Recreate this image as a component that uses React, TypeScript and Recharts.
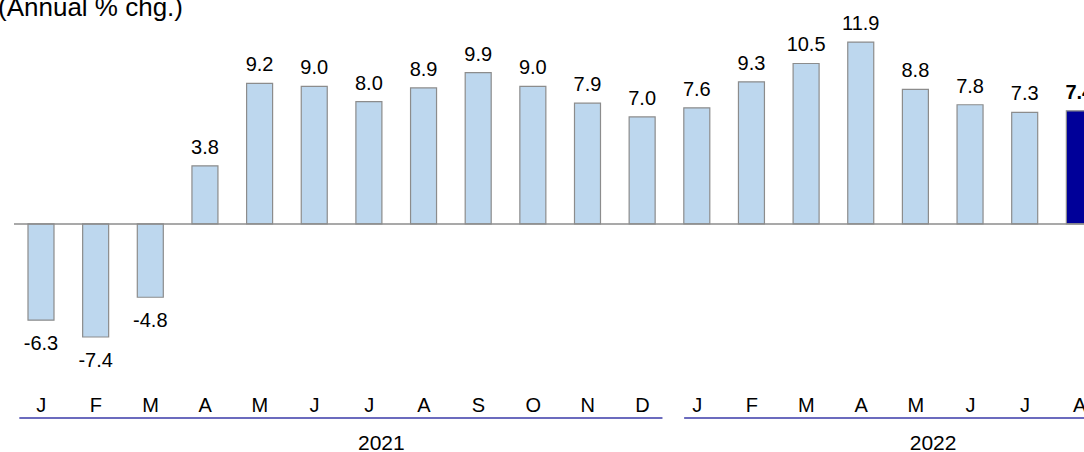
import { BarChart, Bar, Cell, XAxis, YAxis, ReferenceLine, LabelList } from "recharts";

// Annual % change, by month
const months2021 = ["J", "F", "M", "A", "M", "J", "J", "A", "S", "O", "N", "D"];
const values2021 = [-6.3, -7.4, -4.8, 3.8, 9.2, 9.0, 8.0, 8.9, 9.9, 9.0, 7.9, 7.0];
const months2022 = ["J", "F", "M", "A", "M", "J", "J", "A"];
const values2022 = [7.6, 9.3, 10.5, 11.9, 8.8, 7.8, 7.3, 7.4];
const years = ["2021", "2022"];

const data = [
  ...months2021.map((m, i) => ({ month: m, value: values2021[i], year: years[0] })),
  ...months2022.map((m, i) => ({ month: m, value: values2022[i], year: years[1] })),
];

const FONT = "'Liberation Sans', Arial, sans-serif";
const CHART_W = 1107;
const CHART_H = 452;
const MARGIN = { top: 10, right: 0, left: 14, bottom: 0 };
const BAND = (CHART_W - MARGIN.left - MARGIN.right) / data.length;

const lightBar = "#bdd7ee";
const darkBar = "#000099";
const barStroke = "#8c8c8c";
const yearLine = "#3a3aa8";

// per-year group decoration, relative to the first month tick of the year
const yearStyle = [
  { lineStart: -22, labelDx: 340 },
  { lineStart: -13, labelDx: 236 },
];

const MonthTick = (props: any) => {
  const { x, y, payload, index } = props;
  const row = data[index];
  const yi = years.indexOf(row.year);
  const isFirst = index === 0 || data[index - 1].year !== row.year;
  return (
    <g>
      <text x={x} y={y + 20} textAnchor="middle" fontSize={20} fontFamily={FONT} fill="#000">
        {payload.value}
      </text>
      {isFirst && (
        <>
          <line
            x1={x + yearStyle[yi].lineStart}
            x2={x + 11 * BAND + 20}
            y1={y + 26}
            y2={y + 26}
            stroke={yearLine}
            strokeWidth={1.5}
          />
          <text
            x={x + yearStyle[yi].labelDx}
            y={y + 58}
            textAnchor="middle"
            fontSize={21}
            fontFamily={FONT}
            fill="#000"
          >
            {row.year}
          </text>
        </>
      )}
    </g>
  );
};

const ValueLabel = (props: any) => {
  const { x, y, width, height, value, index } = props;
  const top = Math.min(y, y + height);
  const bottom = Math.max(y, y + height);
  const v = Number(value);
  const isLast = index === data.length - 1;
  return (
    <text
      x={x + width / 2}
      y={v >= 0 ? top - 12 : bottom + 30}
      textAnchor="middle"
      fontSize={20}
      fontFamily={FONT}
      fontWeight={isLast ? "bold" : "normal"}
      fill="#000"
    >
      {v.toFixed(1)}
    </text>
  );
};

const App = () => {
  return (
    <div
      style={{
        position: "absolute",
        left: 0,
        top: 0,
        width: 1084,
        height: 452,
        overflow: "hidden",
        background: "#fff",
        fontFamily: FONT,
      }}
    >
      <div
        style={{
          position: "absolute",
          left: -2,
          top: -8,
          fontSize: 26,
          lineHeight: "30px",
          color: "#000",
          whiteSpace: "nowrap",
        }}
      >
        (Annual % chg.)
      </div>
      <BarChart width={CHART_W} height={CHART_H} data={data} margin={MARGIN}>
        <XAxis
          dataKey="month"
          interval={0}
          tickLine={false}
          axisLine={false}
          tickSize={0}
          tickMargin={0}
          height={60}
          tick={(p: any) => <MonthTick {...p} />}
        />
        <YAxis hide domain={[-11, 14]} allowDataOverflow />
        <ReferenceLine y={0} stroke={barStroke} strokeWidth={1.5} />
        <Bar dataKey="value" barSize={26} stroke={barStroke} strokeWidth={1.2} isAnimationActive={false}>
          {data.map((_d, i) => (
            <Cell key={`c-${i}`} fill={i === data.length - 1 ? darkBar : lightBar} />
          ))}
          <LabelList dataKey="value" content={(p: any) => <ValueLabel {...p} />} />
        </Bar>
      </BarChart>
    </div>
  );
};

export default App;
